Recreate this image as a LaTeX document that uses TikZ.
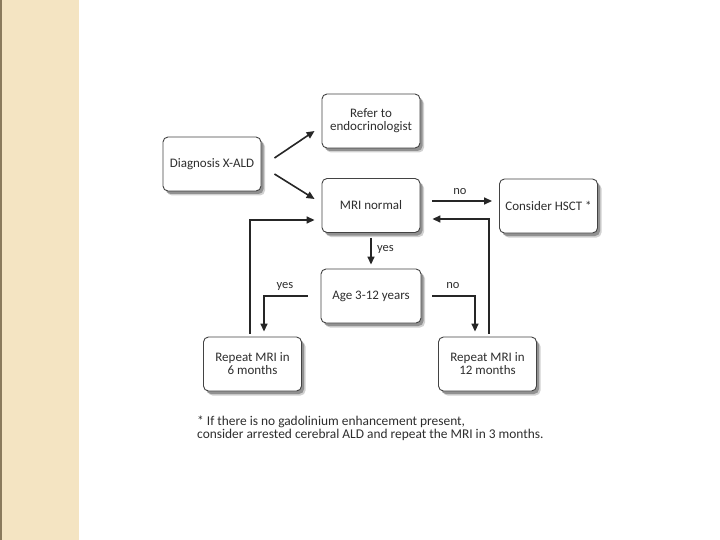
\documentclass[tikz,border=0pt]{standalone}
\usepackage{fontspec}
\setmainfont{Carlito}
\usetikzlibrary{arrows.meta,shadows}
\definecolor{strip}{HTML}{F4E4C2}
\definecolor{stripedge}{HTML}{8A7A5C}
\definecolor{ink}{HTML}{2E2E2E}
\begin{document}
\begin{tikzpicture}[x=1pt,y=-1pt,
  box/.style={draw=ink!90, line width=0.9pt, rounded corners=5pt, fill=white,
    minimum width=98pt, minimum height=54pt, align=center, inner sep=2pt,
    text=ink, font=\fontsize{13}{13}\selectfont,
    drop shadow={shadow xshift=4pt, shadow yshift=-4.5pt, opacity=0.18, fill=black},
    drop shadow={shadow xshift=2.5pt, shadow yshift=-3pt, opacity=0.3, fill=black}},
  arr/.style={draw=black!85, line width=1.6pt, -{Triangle[length=8pt,width=7pt]}},
  lab/.style={text=ink, font=\fontsize{12.5}{13}\selectfont, inner sep=0pt}]
\useasboundingbox (0,0) rectangle (720,540);
\fill[white] (0,0) rectangle (720,540);
\fill[strip] (0,0) rectangle (79,540);
\fill[stripedge] (0,0) rectangle (2,540);

\node[box] (diag)  at (212,164)   {Diagnosis X-ALD};
\node[box] (refer) at (371,121)   {Refer to\\endocrinologist};
\node[box] (mri)   at (371,205.5) {MRI normal};
\node[box] (hsct)  at (548.5,206) {Consider HSCT *};
\node[box, minimum width=100pt] (age) at (371,296) {Age 3-12 years};
\node[box] (rep6)  at (252.5,364) {Repeat MRI in\\6 months};
\node[box] (rep12) at (487.5,364) {Repeat MRI in\\12 months};

\draw[arr] ([xshift=13pt,yshift=6pt]diag.east) -- ([xshift=-7pt,yshift=-10pt]refer.west);
\draw[arr] ([xshift=13pt,yshift=-10pt]diag.east) -- ([xshift=-7pt,yshift=6.5pt]mri.west);
\draw[arr] ([xshift=12pt,yshift=4.5pt]mri.east) -- ([xshift=-7pt,yshift=5pt]hsct.west);
\draw[arr] ([yshift=-5pt]mri.south) -- ([yshift=4pt]age.north);
\draw[arr] ([xshift=-2.5pt,yshift=3pt]rep6.north) |- ([xshift=-7pt,yshift=-14.5pt]mri.west);
\draw[arr] ([xshift=1.5pt,yshift=3pt]rep12.north) |- ([xshift=12pt,yshift=-13.5pt]mri.east);
\draw[arr] ([xshift=-13pt]age.west) -| ([xshift=11.5pt,yshift=5pt]rep6.north);
\draw[arr] ([xshift=11pt]age.east) -| ([xshift=-12.5pt,yshift=5pt]rep12.north);

\node[lab] (lno1)  at (460,192) {no};
\node[lab, anchor=west] (lyes1) at (377,249) {yes};
\node[lab] (lyes2) at (285,286) {yes};
\node[lab] (lno2)  at (453,286) {no};

\node[anchor=north west, align=left, text=ink, inner sep=0pt,
  font=\fontsize{13.4}{13}\selectfont] (note) at (197,416)
  {* If there is no gadolinium enhancement present,\\
   consider arrested cerebral ALD and repeat the MRI in 3 months.};
\end{tikzpicture}
\end{document}
